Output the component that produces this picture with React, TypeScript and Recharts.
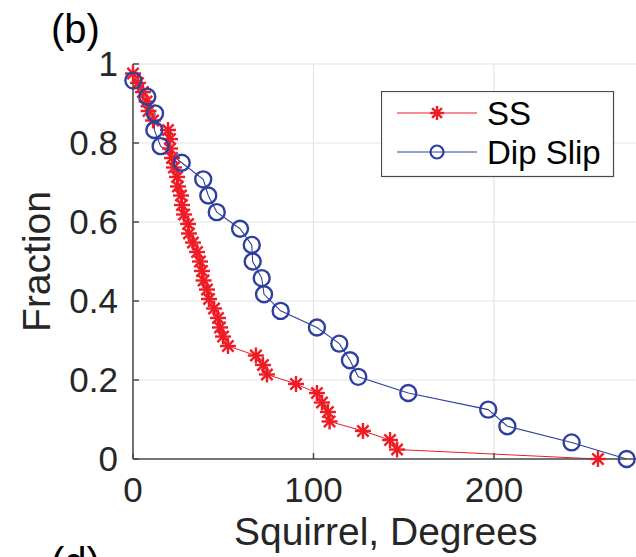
import { CartesianGrid, Legend, Line, LineChart, XAxis, YAxis } from "recharts";

// SS (strike slip) cumulative fraction vs squirrel angle
const SS_DEG = [
  0, 2.8, 5.5, 7.5, 8.6, 11.1, 19.4, 20.5, 20.5, 21.6, 22.7, 24.4, 24.9, 26.6, 27.1, 28.3, 30.5, 31.0, 33.2, 35.5, 37.1,
  38.2, 39.1, 41.0, 42.1, 44.9, 47.1, 48.2, 49.9, 52.6, 68.1, 72.0, 74.2, 90.3, 101.9, 104.7, 108.0, 108.9, 127.4,
  142.4, 146.3, 257.6,
];
const SS_FRAC = [
  0.976, 0.952, 0.929, 0.905, 0.881, 0.857, 0.833, 0.81, 0.786, 0.762, 0.738, 0.714, 0.69, 0.667, 0.643, 0.619, 0.595,
  0.571, 0.548, 0.524, 0.5, 0.476, 0.452, 0.429, 0.405, 0.381, 0.357, 0.333, 0.31, 0.286, 0.262, 0.238, 0.214, 0.19,
  0.167, 0.143, 0.119, 0.095, 0.071, 0.048, 0.024, 0,
];

// Dip slip
const DIP_DEG = [
  0.2, 7.9, 12.2, 11.8, 15.3, 27.0, 38.9, 41.7, 46.4, 59.3, 65.8, 66.3, 71.3, 72.6, 81.8, 101.9, 114.3, 120.2, 124.8,
  152.5, 196.8, 207.4, 243.0, 273.5,
];
const DIP_FRAC = [
  0.958, 0.917, 0.875, 0.833, 0.792, 0.75, 0.708, 0.667, 0.625, 0.583, 0.542, 0.5, 0.458, 0.417, 0.375, 0.333, 0.292,
  0.25, 0.208, 0.167, 0.125, 0.083, 0.042, 0,
];

const X_TICKS = [0, 100, 200];
const Y_TICKS = [0, 0.2, 0.4, 0.6, 0.8, 1];

const RED = "#ee1c25";
const BLUE = "#2f3f9f";
const AXIS = "#4a4a4a";
const TEXT = "#262626";
const FONT = '"Liberation Sans", Arial, Helvetica, sans-serif';

const ssData = SS_DEG.map((x, i) => ({ x, y: SS_FRAC[i] }));
const dipData = DIP_DEG.map((x, i) => ({ x, y: DIP_FRAC[i] }));

function Asterisk({ cx, cy, r, color }: { cx: number; cy: number; r: number; color: string }) {
  const d = r * 0.707;
  return (
    <g stroke={color} strokeWidth={2.4} strokeLinecap="butt">
      <line x1={cx - r} y1={cy} x2={cx + r} y2={cy} />
      <line x1={cx} y1={cy - r} x2={cx} y2={cy + r} />
      <line x1={cx - d} y1={cy - d} x2={cx + d} y2={cy + d} />
      <line x1={cx - d} y1={cy + d} x2={cx + d} y2={cy - d} />
    </g>
  );
}

const noTick = () => <g />;

function LegendBox() {
  return (
    <svg width={234} height={88} style={{ display: "block" }}>
      <rect x={0.5} y={0.5} width={232} height={85} fill="#fff" stroke={AXIS} strokeWidth={1.2} />
      <line x1={16} x2={96} y1={22} y2={22} stroke={RED} strokeWidth={1} />
      <Asterisk cx={56} cy={22} r={7} color={RED} />
      <text x={106} y={34} fontSize={33} fontFamily={FONT} fill="#000">
        SS
      </text>
      <line x1={16} x2={96} y1={61} y2={61} stroke={BLUE} strokeWidth={1} />
      <circle cx={56} cy={61} r={6.5} fill="none" stroke={BLUE} strokeWidth={2.2} />
      <text x={106} y={73} fontSize={33} fontFamily={FONT} fill="#000">
        Dip Slip
      </text>
    </svg>
  );
}

export default function App() {
  return (
    <div style={{ position: "absolute", left: 0, top: 0, width: 636, height: 557, overflow: "hidden", background: "#fff" }}>
      <LineChart width={660} height={557} margin={{ top: 64, right: 21.6, bottom: 0, left: 0 }}>
        <CartesianGrid stroke="#e4e4e4" strokeWidth={1.2} />
        <XAxis
          dataKey="x"
          type="number"
          domain={[0, 280]}
          ticks={X_TICKS}
          height={98}
          stroke={AXIS}
          strokeWidth={1.5}
          tickSize={-6}
          tickMargin={24}
          tick={{ fill: TEXT, fontSize: 35, fontFamily: FONT }}
          label={{
            content: () => (
              <text x={385.7} y={545} textAnchor="middle" fontSize={39} fontFamily={FONT} fill={TEXT}>
                Squirrel, Degrees
              </text>
            ),
          }}
        />
        <XAxis
          xAxisId="top"
          orientation="top"
          dataKey="x"
          type="number"
          domain={[0, 280]}
          ticks={X_TICKS}
          height={0}
          stroke={AXIS}
          strokeWidth={1.5}
          tickSize={-6}
          tick={noTick}
        />
        <YAxis
          type="number"
          domain={[0, 1]}
          ticks={Y_TICKS}
          width={133}
          stroke={AXIS}
          strokeWidth={1.5}
          tickSize={-6}
          tickMargin={21}
          tick={{ fill: TEXT, fontSize: 35, fontFamily: FONT }}
          label={{
            content: () => (
              <text
                transform="translate(36, 261.5) rotate(-90)"
                textAnchor="middle"
                dominantBaseline="central"
                fontSize={39}
                fontFamily={FONT}
                fill={TEXT}
              >
                Fraction
              </text>
            ),
          }}
        />
        <YAxis
          yAxisId="right"
          orientation="right"
          type="number"
          domain={[0, 1]}
          ticks={Y_TICKS}
          width={0}
          stroke={AXIS}
          strokeWidth={1.5}
          tickSize={-6}
          tick={noTick}
        />
        <Legend
          layout="vertical"
          align="center"
          verticalAlign="middle"
          content={() => <LegendBox />}
          wrapperStyle={{ left: 381, top: 91, right: "auto", bottom: "auto", width: 234, height: 88 }}
        />
        <Line
          data={ssData}
          dataKey="y"
          stroke={RED}
          strokeWidth={1}
          isAnimationActive={false}
          dot={(p: any) => <Asterisk key={`ss-${p.index}`} cx={p.cx} cy={p.cy} r={8} color={RED} />}
          activeDot={false}
        />
        <Line
          data={dipData}
          dataKey="y"
          stroke={BLUE}
          strokeWidth={1.1}
          isAnimationActive={false}
          dot={(p: any) => (
            <circle key={`dip-${p.index}`} cx={p.cx} cy={p.cy} r={8} fill="none" stroke={BLUE} strokeWidth={2.4} />
          )}
          activeDot={false}
        />
      </LineChart>
      <svg
        width={636}
        height={557}
        style={{ position: "absolute", left: 0, top: 0, pointerEvents: "none" }}
      >
        <text x={51} y={43} fontSize={40} fontFamily={FONT} fill="#000">
          (b)
        </text>
        <text x={51} y={576} fontSize={40} fontFamily={FONT} fill="#000">
          (d)
        </text>
      </svg>
    </div>
  );
}
